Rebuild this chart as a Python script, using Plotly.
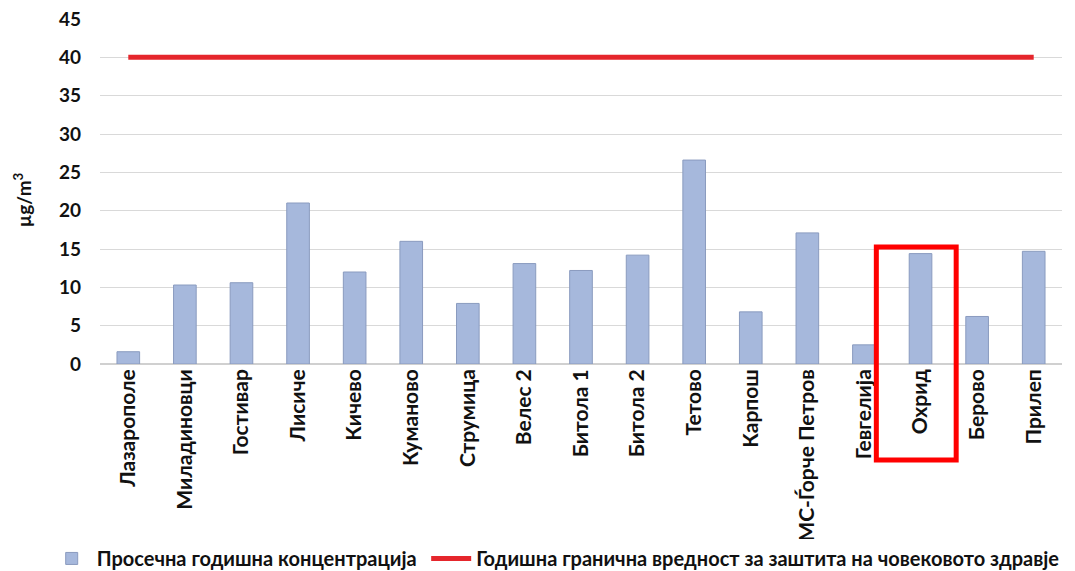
import plotly.graph_objects as go

# Stations and annual mean concentration (µg/m³)
stations = [
    "Лазарополе", "Миладиновци", "Гостивар", "Лисиче", "Кичево", "Куманово",
    "Струмица", "Велес 2", "Битола 1", "Битола 2", "Тетово", "Карпош",
    "МС-Ѓорче Петров", "Гевгелија", "Охрид", "Берово", "Прилеп",
]
mean_conc = [1.6, 10.3, 10.6, 21.0, 12.0, 16.0, 7.9, 13.1, 12.2, 14.2,
             26.6, 6.8, 17.1, 2.5, 14.4, 6.2, 14.7]
limit_value = [40] * len(stations)

FONT = "Lato, 'Noto Sans', sans-serif"
TEXT = "#111111"
LEGEND_FONT = dict(family=FONT, size=20, color=TEXT, weight="bold")

fig = go.Figure()

fig.add_trace(
    go.Bar(
        x=stations,
        y=mean_conc,
        name="Просечна годишна концентрација",
        marker=dict(color="#a6b8dc", line=dict(color="#8a9bbf", width=1)),
        width=0.4,
        legend="legend",
        showlegend=True,
    )
)

fig.add_trace(
    go.Scatter(
        x=stations,
        y=limit_value,
        mode="lines",
        name="Годишна гранична вредност за заштита на човековото здравје",
        line=dict(color="#e5262c", width=5),
        legend="legend2",
        showlegend=True,
    )
)

# red highlight box around Охрид
fig.add_shape(
    type="rect",
    xref="paper", yref="paper",
    x0=0.807, x1=0.890, y0=-0.278, y1=0.339,
    line=dict(color="#ff0000", width=5),
)

# y-axis title
fig.add_annotation(
    text="µg/m<sup>3</sup>",
    xref="paper", yref="paper",
    x=-0.081, y=0.475,
    xanchor="center", yanchor="middle",
    textangle=-90,
    showarrow=False,
    font=dict(family=FONT, size=19, color=TEXT, weight="bold"),
)

fig.update_yaxes(
    range=[0, 45],
    dtick=5,
    automargin=False,
    ticklabeloverflow="allow",
    showgrid=True,
    gridcolor="#d9d9d9",
    gridwidth=1,
    zeroline=True,
    zerolinecolor="#d0d0d0",
    tickfont=dict(family=FONT, size=19, color=TEXT, weight="bold"),
    ticklabelstandoff=18,
)

fig.update_xaxes(
    tickangle=-90,
    automargin=False,
    showgrid=False,
    showline=False,
    tickfont=dict(family=FONT, size=21, color=TEXT, weight="bold"),
)

# the page body adds an 8px offset, so margins are shifted to compensate
fig.update_layout(
    width=1075,
    height=571,
    plot_bgcolor="white",
    paper_bgcolor="white",
    bargap=0.6,
    showlegend=True,
    margin=dict(l=92, r=21, t=11, b=215),
    legend=dict(
        orientation="h",
        xref="container", yref="container",
        x=0.036, xanchor="left",
        y=0.036, yanchor="middle",
        font=LEGEND_FONT,
        itemwidth=40,
    ),
    legend2=dict(
        orientation="h",
        xref="container", yref="container",
        x=0.389, xanchor="left",
        y=0.036, yanchor="middle",
        font=LEGEND_FONT,
        itemwidth=40,
    ),
)

fig.write_html("out.html")
